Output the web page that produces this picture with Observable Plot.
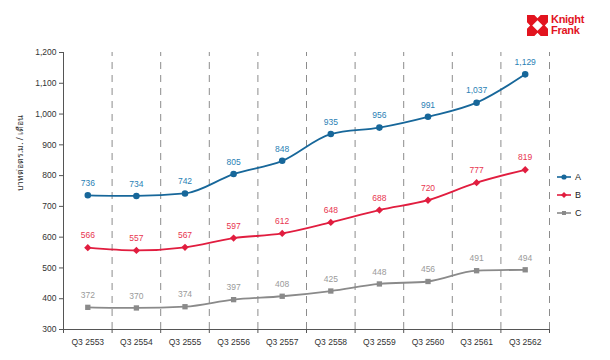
<!DOCTYPE html>
<html>
<head>
<meta charset="utf-8">
<script src="https://cdn.jsdelivr.net/npm/d3@7"></script>
<script src="https://cdn.jsdelivr.net/npm/@observablehq/plot@0.6"></script>
<style>
  body { margin: 0; background: #fff; font-family: "Liberation Sans", Arial, sans-serif; }
  #wrap { position: relative; width: 610px; height: 360px; overflow: hidden; }
  #chart { position: absolute; left: 0; top: 0; }
  #logo { position: absolute; left: 527px; top: 14px; display: flex; align-items: center; gap: 3px; }
  #logo .txt { color: #e2141f; font-weight: bold; font-size: 11px; line-height: 11px; letter-spacing: -0.3px; }
  #legend { position: absolute; left: 557px; top: 168px; font-size: 9px; color: #222; }
  #legend .row { display: flex; align-items: center; height: 18px; gap: 4px; }
</style>
</head>
<body>
<div id="wrap">
  <div id="chart"></div>
  <div id="logo">
    <svg width="21" height="21" viewBox="0 0 20 20">
      <path d="M0 0H7L10 3L13 0H20V7L17 10L20 13V20H13L10 17L7 20H0V13L3 10L0 7Z M10 5L5 10L10 15L15 10Z" fill="#e2141f" fill-rule="evenodd"/>
    </svg>
    <div class="txt">Knight<br>Frank</div>
  </div>
  <div id="legend"></div>
</div>
<script>
const categories = ["Q3 2553","Q3 2554","Q3 2555","Q3 2556","Q3 2557","Q3 2558","Q3 2559","Q3 2560","Q3 2561","Q3 2562"];
const seriesA = [736, 734, 742, 805, 848, 935, 956, 991, 1037, 1129];
const seriesB = [566, 557, 567, 597, 612, 648, 688, 720, 777, 819];
const seriesC = [372, 370, 374, 397, 408, 425, 448, 456, 491, 494];
const seriesNames = ["A", "B", "C"];
const yTicks = [300, 400, 500, 600, 700, 800, 900, 1000, 1100, 1200];
const yLabel = "บาทต่อตร.ม. / เดือน";

const colors = {A: "#17679a", B: "#e11d3f", C: "#8a8a8a"};
const labelColors = {A: "#2a7fb5", B: "#e8354f", C: "#9a9a9a"};
const symbols = {A: "circle", B: "diamond2", C: "square"};
const sizes = {A: 2.4, B: 2.4, C: 2};

const allSeries = [seriesA, seriesB, seriesC];
const data = [];
seriesNames.forEach((s, si) => allSeries[si].forEach((v, i) => data.push({series: s, i, value: v})));
const idx = categories.map((c, i) => i);
const bounds = categories.map((c, i) => i + 0.5);
const boundsAll = [-0.5, ...bounds];

const chart = Plot.plot({
  width: 610,
  height: 360,
  marginLeft: 63,
  marginRight: 61,
  marginTop: 52,
  marginBottom: 31,
  style: {fontFamily: "Liberation Sans, Arial, sans-serif", fontSize: "8.5px", color: "#333", background: "transparent"},
  x: {domain: [-0.5, categories.length - 0.5]},
  y: {domain: [300, 1200]},
  marks: [
    Plot.ruleX(bounds, {y1: 300, y2: 1200, stroke: "#8c8c8c", strokeWidth: 1, strokeDasharray: "7,6"}),
    Plot.ruleX([-0.5], {y1: 300, y2: 1200, stroke: "#555", strokeWidth: 1}),
    Plot.ruleY([300], {stroke: "#555", strokeWidth: 1}),
    Plot.axisY({ticks: yTicks, tickFormat: d3.format(","), tickSize: 4, tickPadding: 3, label: null, stroke: "#555", fill: "#333", fontSize: 8.5}),
    Plot.axisX({ticks: boundsAll, tickFormat: () => "", tickSize: 4, stroke: "#555", label: null}),
    Plot.axisX({ticks: idx, tickFormat: i => categories[i], tickSize: 0, tickPadding: 9, label: null, fill: "#333", fontSize: 8.5}),
    Plot.line(data, {x: "i", y: "value", z: "series", stroke: d => colors[d.series], strokeWidth: 1.8, curve: "monotone-x"}),
    Plot.dot(data, {x: "i", y: "value", symbol: d => symbols[d.series], fill: d => colors[d.series], r: d => sizes[d.series], stroke: "none"}),
    Plot.text(data, {x: "i", y: "value", text: d => d3.format(",")(d.value), dy: -12, fill: d => labelColors[d.series], fontSize: 8.5}),
    Plot.text([yLabel], {frameAnchor: "left", dx: -43, rotate: -90, fill: "#333", fontSize: 8.5, fontFamily: "Noto Sans, sans-serif"})
  ]
});
document.getElementById("chart").appendChild(chart);

// legend
const leg = document.getElementById("legend");
seriesNames.forEach(s => {
  const row = document.createElement("div");
  row.className = "row";
  const shape = s === "A" ? `<circle cx="7" cy="5" r="2.6" fill="${colors[s]}"/>`
    : s === "B" ? `<path d="M7 2L10 5L7 8L4 5Z" fill="${colors[s]}"/>`
    : `<rect x="5" y="3" width="4" height="4" fill="${colors[s]}"/>`;
  row.innerHTML = `<svg width="14" height="10"><line x1="0" x2="14" y1="5" y2="5" stroke="${colors[s]}" stroke-width="1.6"/>${shape}</svg><span>${s}</span>`;
  leg.appendChild(row);
});
</script>
</body>
</html>
